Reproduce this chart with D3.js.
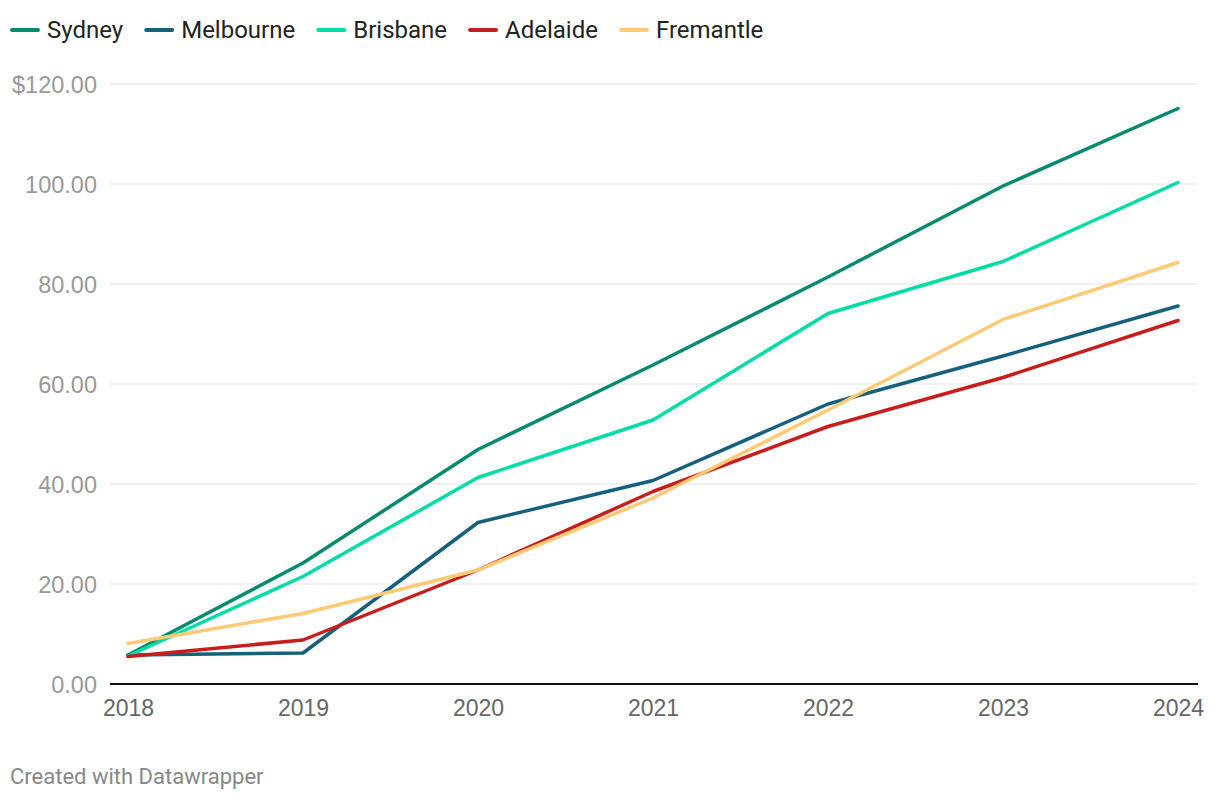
<!DOCTYPE html>
<html><head><meta charset="utf-8">
<script src="https://cdn.jsdelivr.net/npm/d3@7"></script>
<style>
html,body{margin:0;padding:0;background:#fff;}
svg{display:block;font-family:Roboto,"Noto Sans",sans-serif;}
</style></head>
<body><svg id="chart" width="1220" height="800"></svg>
<script>
const years = ["2018","2019","2020","2021","2022","2023","2024"];
const seriesNames = ["Sydney","Melbourne","Brisbane","Adelaide","Fremantle"];
const seriesColors = ["#078a6e","#15607a","#00dca6","#c71e1d","#ffca76"];
const sydney    = [5.8, 24.2, 46.9, 63.8, 81.4, 99.6, 115.1];
const melbourne = [5.8, 6.2, 32.3, 40.7, 56.0, 65.6, 75.6];
const brisbane  = [5.6, 21.5, 41.3, 52.8, 74.1, 84.5, 100.3];
const adelaide  = [5.5, 8.8, 22.8, 38.5, 51.5, 61.3, 72.7];
const fremantle = [8.1, 14.1, 22.8, 37.2, 54.8, 72.9, 84.3];
const yTicks = [0, 20, 40, 60, 80, 100, 120];
const footer = "Created with Datawrapper";

const seriesValues = [sydney, melbourne, brisbane, adelaide, fremantle];
const svg = d3.select("#chart");

const x = d3.scalePoint().domain(years).range([128, 1178]);
const y = d3.scaleLinear().domain([0, 120]).range([684, 84]);
const gridLeft = 110, gridRight = 1198;

const yAxis = d3.axisLeft(y).tickValues(yTicks)
  .tickSize(0)
  .tickFormat((d,i) => (d === 120 ? "$" : "") + d3.format(".2f")(d));
const gy = svg.append("g").attr("transform", `translate(${gridLeft - 13},0)`).call(yAxis);
gy.select(".domain").remove();
gy.selectAll("text").attr("fill", "#999").attr("font-size", 23.5).attr("x", 0).attr("dy", "0.35em");

svg.append("g").selectAll("line").data(yTicks.filter(d => d !== 0)).join("line")
  .attr("x1", gridLeft).attr("x2", gridRight)
  .attr("y1", d => y(d)).attr("y2", d => y(d))
  .attr("stroke", "#e3e3e3").attr("stroke-width", 1);

const xAxis = d3.axisBottom(x).tickSize(0).tickPadding(0);
const gx = svg.append("g").attr("transform", `translate(0,${y(0)})`).call(xAxis);
gx.select(".domain").remove();
gx.selectAll("text").attr("fill", "#666").attr("font-size", 23).attr("dy", "0.71em").attr("y", 16);

const line = d3.line().x((d,i) => x(years[i])).y(d => y(d));
svg.append("g").selectAll("path").data(seriesValues).join("path")
  .attr("d", d => line(d))
  .attr("fill", "none")
  .attr("stroke", (d,i) => seriesColors[i])
  .attr("stroke-width", 3.5)
  .attr("stroke-linejoin", "round")
  .attr("stroke-linecap", "round");

svg.append("line").attr("x1", gridLeft).attr("x2", gridRight)
  .attr("y1", y(0)).attr("y2", y(0)).attr("stroke", "#111").attr("stroke-width", 2);

const leg = svg.append("g");
let lx = 10;
seriesNames.forEach((name, i) => {
  const g = leg.append("g");
  g.append("line").attr("x1", lx + 2).attr("x2", lx + 28).attr("y1", 30).attr("y2", 30)
    .attr("stroke", seriesColors[i]).attr("stroke-width", 4).attr("stroke-linecap", "round");
  const t = g.append("text").attr("x", lx + 37).attr("y", 30).attr("dy", "0.35em")
    .attr("font-size", 24).attr("fill", "#222").text(name);
  const w = t.node().getComputedTextLength();
  lx = lx + 37 + w + 21;
});

svg.append("text").attr("x", 10).attr("y", 776).attr("dy", "0.35em")
  .attr("font-size", 22).attr("fill", "#888").text(footer);
</script></body></html>
